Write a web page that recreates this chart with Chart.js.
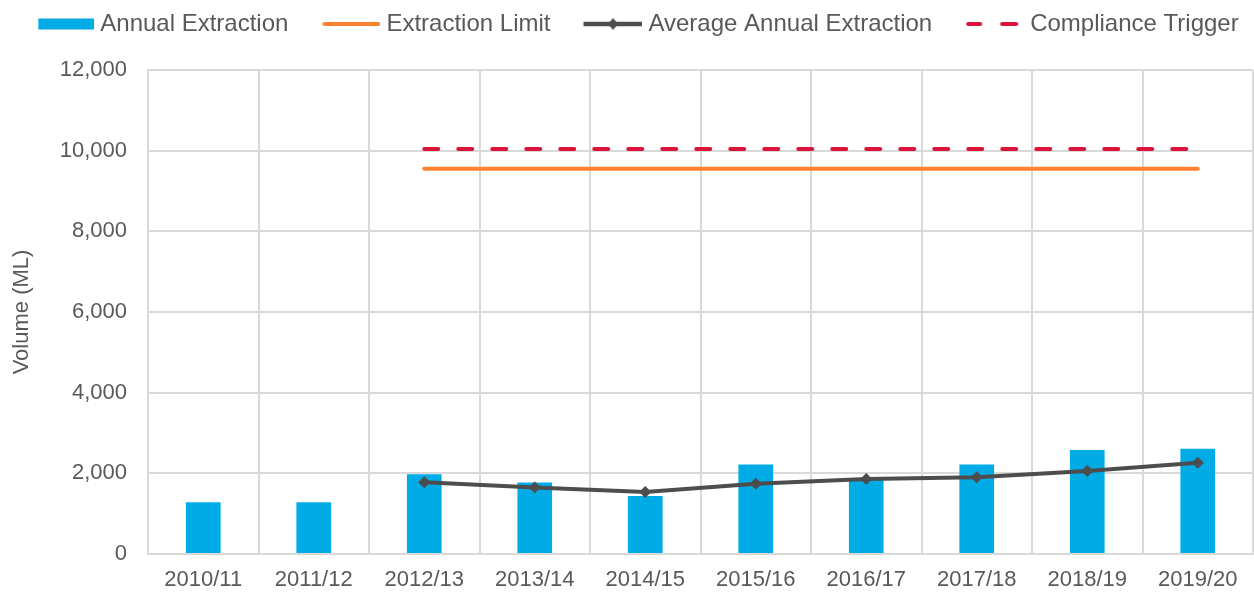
<!DOCTYPE html>
<html>
<head>
<meta charset="utf-8">
<script src="https://cdn.jsdelivr.net/npm/chart.js@4"></script>
<style>
  html, body { margin: 0; padding: 0; background: #fff; }
  #wrap { width: 1254px; height: 595px; }
</style>
</head>
<body>
<div id="wrap"><canvas id="grafico"></canvas></div>
<script>
let labels = ['2010/11', '2011/12', '2012/13', '2013/14', '2014/15', '2015/16', '2016/17', '2017/18', '2018/19', '2019/20']

let annualExtraction = [1280, 1280, 1980, 1770, 1440, 2220, 1870, 2220, 2580, 2610]
let averageExtraction = [null, null, 1780, 1650, 1540, 1740, 1860, 1900, 2060, 2260]
let extractionLimit = [null, null, 9550, 9550, 9550, 9550, 9550, 9550, 9550, 9550]
let complianceTrigger = [null, null, 10040, 10040, 10040, 10040, 10040, 10040, 10040, 10040]

let yTicks = [0, 2000, 4000, 6000, 8000, 10000, 12000]

const azul = '#00ABE6'
const laranja = '#FF822E'
const cinza = '#4D4D4D'
const vermelho = '#DC143C'
const texto = '#595959'
const grade = '#D9D9D9'

Chart.defaults.font.family = "'Liberation Sans', Arial, sans-serif"
Chart.defaults.color = texto

// legend symbols drawn on small canvases (box 74 wide, canvas sticks out 6px right)
const boxW = 74
function icone(desenha) {
    let c = document.createElement('canvas')
    c.width = boxW + 12
    c.height = 14
    let g = c.getContext('2d')
    desenha(g, c.width, c.height / 2)
    return c
}

let icones = [
    icone((g, w, cy) => {
        g.fillStyle = azul
        g.fillRect(w - 56, cy - 5.5, 56, 11)
    }),
    icone((g, w, cy) => {
        g.strokeStyle = laranja
        g.lineWidth = 4
        g.lineCap = 'round'
        g.beginPath(); g.moveTo(w - 56, cy); g.lineTo(w - 2, cy); g.stroke()
    }),
    icone((g, w, cy) => {
        g.strokeStyle = cinza
        g.fillStyle = cinza
        g.lineWidth = 4.5
        g.beginPath(); g.moveTo(w - 59, cy); g.lineTo(w, cy); g.stroke()
        let mx = w - 29.5
        g.beginPath(); g.moveTo(mx, cy - 6); g.lineTo(mx + 5, cy); g.lineTo(mx, cy + 6); g.lineTo(mx - 5, cy); g.closePath(); g.fill()
    }),
    icone((g, w, cy) => {
        g.strokeStyle = vermelho
        g.lineWidth = 4
        g.lineCap = 'round'
        let r = w - 6
        g.beginPath(); g.moveTo(r - 50, cy); g.lineTo(r - 38, cy); g.stroke()
        g.beginPath(); g.moveTo(r - 16, cy); g.lineTo(r - 2, cy); g.stroke()
    })
]

let semPadding = s => {
    s.paddingLeft = 0
    s.paddingRight = 0
}

let ctx = document.getElementById('grafico')
new Chart(ctx, {
    type: 'bar',
    data: {
        labels: labels,
        datasets: [{
            label: 'Annual Extraction',
            data: annualExtraction,
            backgroundColor: azul,
            barPercentage: 0.314,
            categoryPercentage: 1,
            order: 4
        }, {
            type: 'line',
            label: 'Extraction Limit',
            data: extractionLimit,
            borderColor: laranja,
            borderWidth: 4,
            borderCapStyle: 'round',
            pointRadius: 0,
            order: 2
        }, {
            type: 'line',
            label: 'Average Annual Extraction',
            data: averageExtraction,
            borderColor: cinza,
            backgroundColor: cinza,
            borderWidth: 4,
            pointStyle: 'rectRot',
            pointRadius: 6,
            pointBorderWidth: 0,
            tension: 0,
            order: 1
        }, {
            type: 'line',
            label: 'Compliance Trigger',
            data: complianceTrigger,
            borderColor: vermelho,
            borderWidth: 4,
            borderCapStyle: 'round',
            borderDash: [14, 20],
            pointRadius: 0,
            order: 3
        }]
    },
    options: {
        responsive: true,
        maintainAspectRatio: false,
        animation: false,
        layout: { autoPadding: false, padding: { top: 0, right: 1, left: 0, bottom: 0 } },
        plugins: {
            tooltip: { enabled: false },
            legend: {
                position: 'top',
                labels: {
                    usePointStyle: true,
                    pointStyleWidth: boxW,
                    boxHeight: 11,
                    padding: 12,
                    color: texto,
                    font: { size: 24 },
                    generateLabels: chart => chart.data.datasets.map((ds, i) => ({
                        text: ds.label,
                        pointStyle: icones[i],
                        datasetIndex: i,
                        hidden: !chart.isDatasetVisible(i),
                        fontColor: texto,
                        lineWidth: 0,
                        strokeStyle: 'transparent',
                        fillStyle: 'transparent'
                    }))
                }
            }
        },
        scales: {
            x: {
                grid: { color: grade, lineWidth: 2, drawTicks: false },
                border: { color: grade, width: 2 },
                ticks: { font: { size: 22 }, color: texto, padding: 13, maxRotation: 0, autoSkip: false },
                afterFit: s => {
                    s.height = 41
                    semPadding(s)
                }
            },
            espaco: {
                type: 'category',
                position: 'top',
                grid: { display: false },
                border: { display: false },
                ticks: { display: false },
                afterFit: s => {
                    s.height = 24
                    semPadding(s)
                }
            },
            y: {
                min: 0,
                max: 12000,
                afterBuildTicks: s => { s.ticks = yTicks.map(v => ({ value: v })) },
                grid: { color: grade, lineWidth: 2, drawTicks: false },
                border: { color: grade, width: 2 },
                ticks: {
                    font: { size: 22 },
                    color: texto,
                    padding: 21,
                    callback: value => value.toLocaleString('en-US')
                },
                title: {
                    display: true,
                    text: 'Volume (ML)',
                    color: texto,
                    font: { size: 22 },
                    padding: { top: 9, bottom: 0 }
                },
                afterFit: s => { s.width = 148 }
            }
        }
    }
})
</script>
</body>
</html>
